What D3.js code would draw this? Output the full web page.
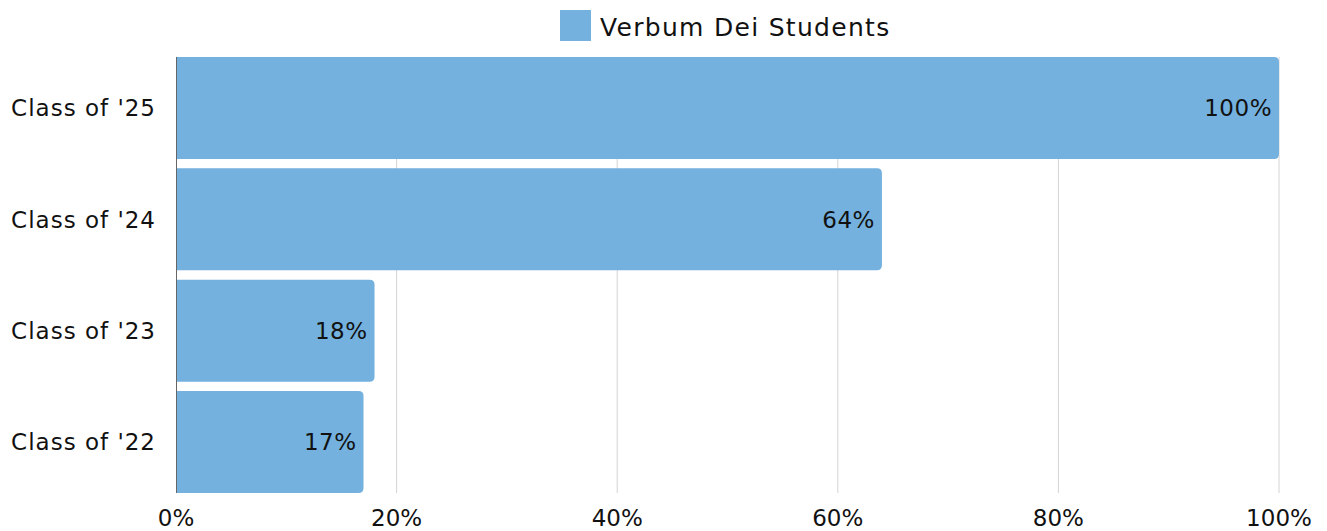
<!DOCTYPE html>
<html>
<head>
<meta charset="utf-8">
<script src="https://cdn.jsdelivr.net/npm/d3@7"></script>
<style>
  body { margin: 0; background: #fff; }
  text { font-family: 'DejaVu Sans', sans-serif; fill: #111; }
</style>
</head>
<body>
<div id="chart"></div>
<script>
const classes = ["Class of '25", "Class of '24", "Class of '23", "Class of '22"];
const values = [100, 64, 18, 17];
const ticks = [0, 20, 40, 60, 80, 100];
const seriesName = 'Verbum Dei Students';

const w = 1327, h = 531;
const m = { top: 57, right: 48, bottom: 38, left: 176 };
const color = '#74b1de';
const fs = 23;

const svg = d3.select('#chart')
  .append('svg')
  .attr('width', w)
  .attr('height', h);

const x = d3.scaleLinear()
  .domain([0, 100])
  .range([m.left, w - m.right]);

const y = d3.scaleBand()
  .domain(classes)
  .range([m.top, h - m.bottom])
  .paddingInner(0.085)
  .paddingOuter(0);

// grid
svg.append('g')
  .selectAll('line')
  .data(ticks.slice(1))
  .enter()
  .append('line')
  .attr('x1', d => x(d))
  .attr('x2', d => x(d))
  .attr('y1', m.top)
  .attr('y2', h - m.bottom)
  .attr('stroke', '#d4d4d4')
  .attr('stroke-width', 1);

// axis line
svg.append('line')
  .attr('x1', x(0) + 0.5)
  .attr('x2', x(0) + 0.5)
  .attr('y1', m.top)
  .attr('y2', h - m.bottom)
  .attr('stroke', '#666');

// bars with rounded right corners
const r = 5;
const barPath = (x0, x1, y0, bh) => {
  const rr = Math.min(r, (x1 - x0) / 2);
  return `M${x0},${y0}H${x1 - rr}Q${x1},${y0} ${x1},${y0 + rr}` +
    `V${y0 + bh - rr}Q${x1},${y0 + bh} ${x1 - rr},${y0 + bh}H${x0}Z`;
};

svg.append('g')
  .selectAll('path')
  .data(values)
  .enter()
  .append('path')
  .attr('d', (d, i) => barPath(x(0) + 1, x(d), y(classes[i]), y.bandwidth()))
  .attr('fill', color);

// value labels
svg.append('g')
  .selectAll('text')
  .data(values)
  .enter()
  .append('text')
  .attr('x', d => x(d) - 7)
  .attr('y', (d, i) => y(classes[i]) + y.bandwidth() / 2)
  .attr('dy', '0.36em')
  .attr('text-anchor', 'end')
  .style('font-size', fs + 'px')
  .style('letter-spacing', '0.5px')
  .text(d => d + '%');

// category labels
svg.append('g')
  .selectAll('text')
  .data(classes)
  .enter()
  .append('text')
  .attr('x', m.left - 20)
  .attr('y', d => y(d) + y.bandwidth() / 2)
  .attr('dy', '0.36em')
  .attr('text-anchor', 'end')
  .style('font-size', fs + 'px')
  .style('letter-spacing', '1px')
  .text(d => d);

// x tick labels
svg.append('g')
  .selectAll('text')
  .data(ticks)
  .enter()
  .append('text')
  .attr('x', d => x(d))
  .attr('y', h - 5)
  .attr('text-anchor', 'middle')
  .style('font-size', fs + 'px')
  .text(d => d + '%');

// legend
const legend = svg.append('g');
legend.append('rect')
  .attr('x', 560)
  .attr('y', 10)
  .attr('width', 31)
  .attr('height', 31)
  .attr('fill', color);
legend.append('text')
  .attr('x', 600)
  .attr('y', 36)
  .style('font-size', '25px')
  .style('letter-spacing', '1.3px')
  .text(seriesName);
</script>
</body>
</html>
